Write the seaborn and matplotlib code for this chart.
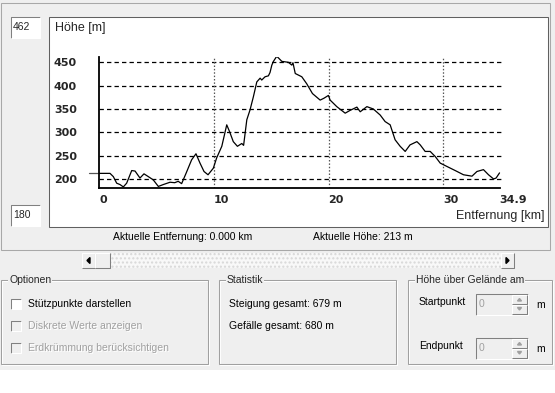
import matplotlib
matplotlib.use("Agg")
import matplotlib.pyplot as plt
from matplotlib.patches import Rectangle, Polygon
import seaborn as sns

# Profile data (distance in km, elevation in m)
dist_km = [0.0, 0.96, 1.25, 1.54, 1.83, 2.12, 2.41, 2.85, 3.14, 3.57, 3.92, 4.3, 4.73,
           5.17, 5.6, 6.19, 6.6, 6.9, 7.2, 7.6, 8.07, 8.45, 8.8, 9.15, 9.5, 9.96,
           10.25, 10.7, 11.13, 11.4, 11.7, 12.06, 12.44, 12.6, 12.88, 13.16, 13.45,
           13.75, 14.04, 14.18, 14.47, 14.76, 14.9, 15.06, 15.2, 15.49, 15.93, 16.5,
           16.8, 16.9, 17.1, 17.67, 18.1, 18.6, 19.27, 19.6, 19.99, 20.14, 20.72,
           21.45, 21.88, 22.47, 22.76, 23.34, 23.9, 24.5, 24.93, 25.37, 25.8, 26.24,
           26.68, 27.1, 27.7, 27.99, 28.42, 28.86, 29.3, 29.73, 30.3, 31.04, 31.76,
           32.5, 32.93, 33.5, 33.94, 34.38, 34.6, 34.9]
hoehe_m = [212, 212, 205, 191, 188, 183, 191, 218, 217, 202, 211, 205, 198,
           184, 188, 193, 192, 195, 190, 213, 241, 254, 234, 216, 209, 223,
           245, 270, 316, 300, 280, 270, 276, 272, 327, 348, 376,
           408, 416, 412, 419, 421, 428, 444, 452, 463, 452, 450,
           444, 449, 426, 419, 404, 383, 369, 373, 379, 369, 355,
           341, 347, 354, 344, 355, 350, 337, 323, 316, 284, 270,
           259, 273, 280, 273, 259, 259, 248, 234, 227, 218, 209,
           206, 216, 220, 209, 200, 202, 213]

y_ticks = [200, 250, 300, 350, 400, 450]
x_ticks = [0, 10, 20, 30, 34.9]
x_ticklabels = ["0", "10", "20", "30", "34.9"]
y_min, y_max = 180, 462
aktuelle_entfernung = 0.0
aktuelle_hoehe = 213
steigung = 679
gefaelle = 680

sns.set_style("white")
plt.rcParams["font.family"] = ["Liberation Sans", "DejaVu Sans"]

W, H = 555, 393
fig = plt.figure(figsize=(W / 100, H / 100), dpi=100)
fig.patch.set_facecolor("white")

# overlay in pixel coordinates for the dialog widgets
ov = fig.add_axes([0, 0, 1, 1], zorder=0)
ov.set_xlim(0, W)
ov.set_ylim(H, 0)
ov.axis("off")

BG = "#efefef"
DARK = "#808080"
FS = 7.5


def line(xs, ys, color, lw=0.75):
    ov.plot(xs, ys, color=color, lw=lw, solid_capstyle="butt")


def sunken(x0, y0, x1, y1, fill="white"):
    ov.add_patch(Rectangle((x0, y0), x1 - x0, y1 - y0, facecolor=fill, edgecolor="none"))
    line([x0, x0, x1], [y1, y0, y0], DARK)
    line([x0, x1, x1], [y1, y1, y0], "white")


def raised(x0, y0, x1, y1, fill=BG):
    ov.add_patch(Rectangle((x0, y0), x1 - x0, y1 - y0, facecolor=fill, edgecolor="none"))
    line([x0, x0, x1], [y1, y0, y0], "white")
    line([x0, x1, x1], [y1, y1, y0], DARK)


def group(x0, y0, x1, y1, title):
    ov.add_patch(Rectangle((x0 + 1, y0 + 1), x1 - x0, y1 - y0, fill=False, edgecolor="white", lw=0.75))
    ov.add_patch(Rectangle((x0, y0), x1 - x0, y1 - y0, fill=False, edgecolor="#a0a0a0", lw=0.75))
    ov.text(x0 + 8, y0, title, fontsize=FS, va="center", ha="left",
            bbox=dict(facecolor=BG, edgecolor="none", pad=0.5))


def label(x, y, s, enabled=True, **kw):
    if not enabled:
        ov.text(x + 0.8, y + 0.8, s, fontsize=FS, va="center", color="white", **kw)
        ov.text(x, y, s, fontsize=FS, va="center", color="#a0a0a0", **kw)
    else:
        ov.text(x, y, s, fontsize=FS, va="center", color="black", **kw)


# backgrounds
ov.add_patch(Rectangle((0, 0), W, 370, facecolor=BG, edgecolor="none"))
ov.add_patch(Rectangle((0.5, 3), 549.5, 247, fill=False, edgecolor="#a8a8a8", lw=0.75))

# chart box and the min / max boxes
ov.add_patch(Rectangle((49, 17), 499, 210, facecolor="white", edgecolor="#606060", lw=0.75))
sunken(11, 17, 40, 38)
sunken(11, 205, 40, 226)
ov.text(13, 27, str(y_max), fontsize=FS, va="center")
ov.text(13, 215, str(y_min), fontsize=FS, va="center")
ov.text(55, 28, "Höhe [m]", fontsize=9, va="center")
ov.text(544, 216, "Entfernung [km]", fontsize=9, va="center", ha="right")

label(113, 237, f"Aktuelle Entfernung: {aktuelle_entfernung:.3f} km")
label(313, 237, f"Aktuelle Höhe: {aktuelle_hoehe} m")

# scrollbar
track = Rectangle((110, 253), 391, 15, facecolor="#f8f8f8", edgecolor="#d8d8d8", lw=0, hatch="....")
ov.add_patch(track)
raised(82, 253, 95, 268)
raised(95, 253, 110, 268)
raised(501, 253, 514, 268)
ov.add_patch(Polygon([[90, 257.5], [90, 263.5], [87, 260.5]], closed=True, color="black"))
ov.add_patch(Polygon([[506, 257.5], [506, 263.5], [509, 260.5]], closed=True, color="black"))

# group boxes
group(1, 280, 208, 364, "Optionen")
group(219, 280, 396, 364, "Statistik")
group(408, 280, 552, 364, "Höhe über Gelände am")

sunken(11, 299, 21, 309)
sunken(11, 321, 21, 331, fill=BG)
sunken(11, 343, 21, 353, fill=BG)
label(28, 304, "Stützpunkte darstellen")
label(28, 326, "Diskrete Werte anzeigen", enabled=False)
label(28, 348, "Erdkrümmung berücksichtigen", enabled=False)

label(229, 304, f"Steigung gesamt: {steigung} m")
label(229, 326, f"Gefälle gesamt: {gefaelle} m")

for yy, name in [(294, "Startpunkt"), (338, "Endpunkt")]:
    label(419, yy + 8, name)
    sunken(476, yy, 528, yy + 21, fill=BG)
    ov.text(479, yy + 10, "0", fontsize=FS, va="center", color="#a0a0a0")
    raised(512, yy + 1, 527, yy + 10)
    raised(512, yy + 10.5, 527, yy + 20)
    ov.add_patch(Polygon([[517.5, yy + 7], [521.5, yy + 7], [519.5, yy + 4.5]], closed=True, color="#a0a0a0"))
    ov.add_patch(Polygon([[517.5, yy + 13.5], [521.5, yy + 13.5], [519.5, yy + 16]], closed=True, color="#a0a0a0"))
    label(536, yy + 11, "m")

# elevation chart
left, right, top, bottom = 99, 503, 56.7, 188.3
ax = fig.add_axes([left / W, 1 - bottom / H, (right - left) / W, (bottom - top) / H], zorder=2)
ax.set_facecolor("none")
px_per_km = (443.3 - 99) / 30
ax.set_xlim(0, (right - left) / px_per_km)
ax.set_ylim(y_min, y_max)

for yv in y_ticks:
    ax.axhline(yv, color="black", lw=0.9, ls=(0, (3.5, 2.5)), zorder=1)
for xv in x_ticks[1:-1]:
    ax.axvline(xv, color="#555555", lw=0.9, ls=(0, (1.2, 1.5)), zorder=1)

sns.lineplot(x=dist_km, y=hoehe_m, ax=ax, color="black", lw=0.9,
             estimator=None, sort=False, zorder=3)
ax.plot([aktuelle_entfernung - 0.9, aktuelle_entfernung], [aktuelle_hoehe, aktuelle_hoehe],
        color="#555555", lw=0.9, clip_on=False)

for s in ["top", "right"]:
    ax.spines[s].set_visible(False)
for s in ["left", "bottom"]:
    ax.spines[s].set_color("black")
    ax.spines[s].set_linewidth(1.3)
ax.spines["bottom"].set_bounds(0, x_ticks[-1])

ax.set_yticks(y_ticks)
ax.set_yticklabels([str(v) for v in y_ticks], fontsize=8, fontweight="bold", family="DejaVu Sans")
ax.set_xticks(x_ticks)
ax.set_xticklabels(x_ticklabels, fontsize=8, fontweight="bold", family="DejaVu Sans", ha="left")
ax.tick_params(axis="y", length=0, pad=16)
ax.tick_params(axis="x", length=0, pad=5)
ax.set_xlabel("")
ax.set_ylabel("")

fig.savefig("out.png", dpi=100)
